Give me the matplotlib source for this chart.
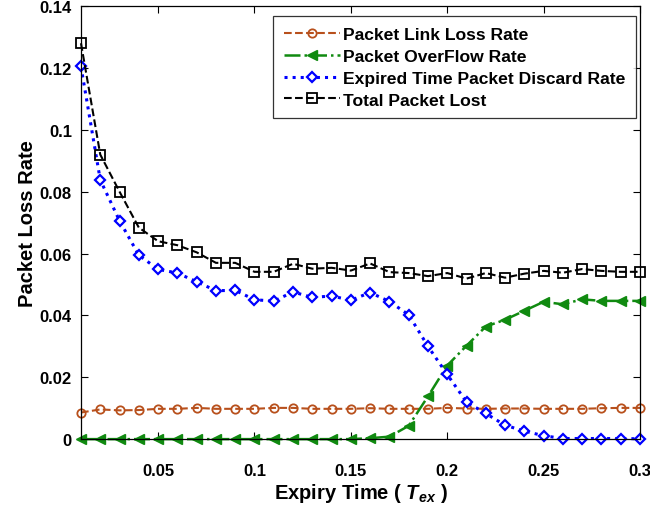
import numpy as np
import matplotlib
matplotlib.use("Agg")
import matplotlib.pyplot as plt
from matplotlib.ticker import FuncFormatter

plt.rcParams['font.family'] = ['Liberation Sans', 'DejaVu Sans']
plt.rcParams['font.weight'] = 'bold'
plt.rcParams['mathtext.fontset'] = 'custom'
plt.rcParams['mathtext.it'] = 'Liberation Sans:bold:italic'
plt.rcParams['mathtext.rm'] = 'Liberation Sans:bold'

expiry = [0.01, 0.02, 0.03, 0.04, 0.05, 0.06, 0.07, 0.08, 0.09, 0.10,
          0.11, 0.12, 0.13, 0.14, 0.15, 0.16, 0.17, 0.18, 0.19, 0.20,
          0.21, 0.22, 0.23, 0.24, 0.25, 0.26, 0.27, 0.28, 0.29, 0.30]

link_loss = [0.0086, 0.0096, 0.0093, 0.0094, 0.0098, 0.0098, 0.0101, 0.0098, 0.0098, 0.0098,
             0.0101, 0.0101, 0.0098, 0.0098, 0.0098, 0.0100, 0.0098, 0.0098, 0.0098, 0.0101,
             0.0099, 0.0098, 0.0099, 0.0099, 0.0098, 0.0098, 0.0098, 0.0100, 0.0101, 0.0101]

overflow = [0, 0, 0, 0, 0, 0, 0, 0, 0, 0,
            0, 0, 0, 0, 0, 0.0003, 0.0008, 0.0043, 0.0138, 0.0238,
            0.0302, 0.0364, 0.0386, 0.0415, 0.0444, 0.0436, 0.0452, 0.0447, 0.0447, 0.0447]

expired_discard = [0.1205, 0.0838, 0.0706, 0.0595, 0.0549, 0.0537, 0.0509, 0.0480, 0.0481, 0.0451,
                   0.0446, 0.0476, 0.0458, 0.0463, 0.0449, 0.0474, 0.0445, 0.0402, 0.0300, 0.0209,
                   0.0120, 0.0083, 0.0045, 0.0026, 0.0011, 0.0002, 0.0002, 0.0002, 0.0002, 0.0001]

total_lost = [0.1280, 0.0920, 0.0800, 0.0684, 0.0640, 0.0627, 0.0604, 0.0570, 0.0570, 0.0541,
              0.0541, 0.0567, 0.0551, 0.0554, 0.0545, 0.0568, 0.0540, 0.0537, 0.0527, 0.0537,
              0.0519, 0.0537, 0.0522, 0.0535, 0.0544, 0.0538, 0.0550, 0.0544, 0.0541, 0.0541]

labels = ['Packet Link Loss Rate', 'Packet OverFlow Rate',
          'Expired Time Packet Discard Rate', 'Total Packet Lost']

fig = plt.figure(figsize=(6.5, 5.1), dpi=100)
ax = fig.add_axes([0.1246, 0.137, 0.860, 0.849])

ax.plot(expiry, link_loss, linestyle='--', color='#b8501c', marker='o',
        markersize=6, markerfacecolor='none', markeredgewidth=1.3, linewidth=1.5,
        clip_on=False, label=labels[0])
ax.plot(expiry, overflow, linestyle='-.', color='#108a10', marker='<',
        markersize=7, markerfacecolor='#108a10', linewidth=1.8,
        clip_on=False, label=labels[1])
ax.plot(expiry, expired_discard, linestyle=':', color='#0000ff', marker='D',
        markersize=5, markerfacecolor='white', markeredgewidth=1.6, linewidth=2.2,
        clip_on=False, label=labels[2])
ax.plot(expiry, total_lost, linestyle='--', color='black', marker='s',
        markersize=7, markerfacecolor='none', markeredgewidth=1.3, linewidth=1.5,
        clip_on=False, label=labels[3])

ax.set_xlim(0.01, 0.3)
ax.set_ylim(0, 0.14)
ax.set_xticks([0.05, 0.1, 0.15, 0.2, 0.25, 0.3])
ax.set_yticks([0, 0.02, 0.04, 0.06, 0.08, 0.1, 0.12, 0.14])
fmt = FuncFormatter(lambda v, p: ('%g' % round(v, 4)))
ax.xaxis.set_major_formatter(fmt)
ax.yaxis.set_major_formatter(fmt)
ax.tick_params(direction='in', top=True, right=True, labelsize=12, length=5, width=0.8)
ax.tick_params(axis='x', pad=17)
ax.tick_params(axis='y', pad=6.5)
for lab in ax.get_xticklabels() + ax.get_yticklabels():
    lab.set_fontweight('bold')
for s in ax.spines.values():
    s.set_linewidth(0.9)

ax.set_xlabel(r'Expiry Time ( $T_{ex}$ )', fontsize=14.5, fontweight='bold', labelpad=2)
ax.set_ylabel('Packet Loss Rate', fontsize=14.5, fontweight='bold', labelpad=2)

leg = ax.legend(loc='upper right', bbox_to_anchor=(0.993, 0.977), fontsize=12.6,
                frameon=True, fancybox=False, edgecolor='black', handlelength=3.2,
                borderaxespad=0.0, labelspacing=0.38, handletextpad=0.2, borderpad=0.6)
leg.get_frame().set_linewidth(0.9)
for t in leg.get_texts():
    t.set_fontweight('bold')

fig.savefig('out.png', dpi=100)
